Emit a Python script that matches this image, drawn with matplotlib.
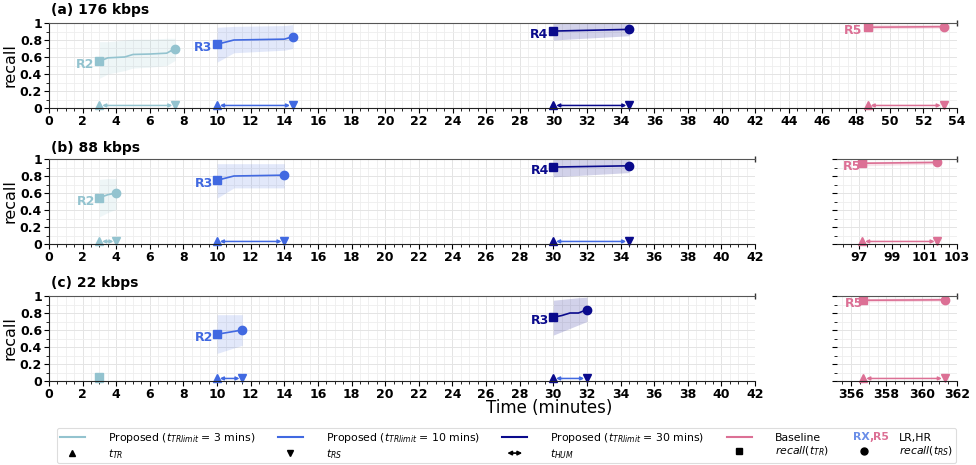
import matplotlib
matplotlib.use("Agg")
import matplotlib.pyplot as plt
from matplotlib.ticker import MultipleLocator, FixedLocator
from matplotlib.legend_handler import HandlerBase
from matplotlib.patches import FancyArrowPatch
from matplotlib.text import Text
from matplotlib.lines import Line2D

# ---------------- data ----------------
C3 = "#93c3cf"
C10 = "#4169e1"
C30 = "#0a0a8c"
CB = "#dc7095"

# panel (a) 176 kbps
a3_t = [3, 3.5, 4.5, 5, 6, 7, 7.5]
a3_m = [0.55, 0.59, 0.60, 0.63, 0.635, 0.645, 0.70]
a3_lo = [0.35, 0.40, 0.44, 0.47, 0.48, 0.50, 0.56]
a3_hi = [0.78, 0.78, 0.80, 0.81, 0.81, 0.82, 0.82]
a10_t = [10, 11, 14, 14.5]
a10_m = [0.75, 0.80, 0.81, 0.84]
a10_lo = [0.54, 0.65, 0.68, 0.70]
a10_hi = [0.95, 0.96, 0.97, 0.98]
a30_t = [30, 34.5]
a30_m = [0.905, 0.925]
a30_lo = [0.80, 0.85]
a30_hi = [1.0, 1.0]
aB_t = [48.7, 53.2]
aB_m = [0.95, 0.957]
aB_lo = [0.93, 0.94]
aB_hi = [0.98, 0.98]

# panel (b) 88 kbps
b3_t = [3, 3.5, 4]
b3_m = [0.545, 0.58, 0.60]
b3_lo = [0.32, 0.37, 0.41]
b3_hi = [0.76, 0.77, 0.77]
b10_t = [10, 11, 14]
b10_m = [0.75, 0.80, 0.81]
b10_lo = [0.54, 0.66, 0.66]
b10_hi = [0.945, 0.945, 0.945]
b30_t = [30, 34.5]
b30_m = [0.905, 0.92]
b30_lo = [0.79, 0.84]
b30_hi = [1.0, 1.0]
bB_t = [97.2, 101.8]
bB_m = [0.95, 0.96]
bB_lo = [0.92, 0.94]
bB_hi = [0.97, 0.98]

# panel (c) 22 kbps
c3_t = [3]
c3_m = [0.05]
c10_t = [10, 11.5]
c10_m = [0.55, 0.60]
c10_lo = [0.325, 0.42]
c10_hi = [0.78, 0.78]
c30_t = [30, 30.5, 31, 31.5, 32]
c30_m = [0.75, 0.77, 0.80, 0.80, 0.84]
c30_lo = [0.54, 0.58, 0.62, 0.66, 0.70]
c30_hi = [0.95, 0.96, 0.97, 0.98, 0.985]
cB_t = [356.7, 361.3]
cB_m = [0.95, 0.955]
cB_lo = [0.93, 0.94]
cB_hi = [0.97, 0.98]

panel_titles = ["(a) 176 kbps", "(b) 88 kbps", "(c) 22 kbps"]
yticks = [0, 0.2, 0.4, 0.6, 0.8, 1]
ytick_labels = ["0", "0.2", "0.4", "0.6", "0.8", "1"]

# ---------------- figure ----------------
W, H = 976, 465
fig = plt.figure(figsize=(W / 100, H / 100), dpi=100)
plt.rcParams["font.family"] = ["DejaVu Sans"]


def px_axes(x0, x1, ytop, ybot):
    return fig.add_axes([x0 / W, 1 - ybot / H, (x1 - x0) / W, (ybot - ytop) / H])


def style(ax, xlim, xmaj, xmin, left=True, show_ylabels=True):
    ax.set_xlim(*xlim)
    ax.set_ylim(0, 1)
    ax.xaxis.set_major_locator(xmaj)
    ax.xaxis.set_minor_locator(MultipleLocator(xmin))
    ax.yaxis.set_major_locator(FixedLocator(yticks))
    ax.yaxis.set_minor_locator(MultipleLocator(0.1))
    ax.grid(True, which="major", color="#e4e4e4", lw=0.7)
    ax.grid(True, which="minor", color="#eeeeee", lw=0.6)
    ax.set_axisbelow(True)
    ax.spines["right"].set_visible(False)
    ax.spines["top"].set_color("#555555")
    ax.spines["bottom"].set_color("#222222")
    if not left:
        ax.spines["left"].set_visible(False)
    else:
        ax.spines["left"].set_color("#222222")
    ax.tick_params(axis="both", which="major", length=3.5, width=0.8, labelsize=9, pad=1.5)
    ax.tick_params(axis="both", which="minor", length=2, width=0.6)
    if show_ylabels:
        ax.set_yticklabels(ytick_labels, fontweight="bold")
    else:
        ax.set_yticklabels([])
    for lab in ax.get_xticklabels():
        lab.set_fontweight("bold")
    ax.plot([1], [1], transform=ax.transAxes, ls="none", marker="|",
            ms=4, color="#333333", clip_on=False)


def series(ax, t, m, lo, hi, color, label, arrow_color=None, alpha=0.15):
    if lo is not None:
        ax.fill_between(t, lo, hi, color=color, alpha=alpha, lw=0)
    ax.plot(t, m, color=color, lw=1.2)
    ax.plot(t[0], m[0], marker="s", color=color, ms=6, ls="none")
    if len(t) > 1:
        ax.plot(t[-1], m[-1], marker="o", color=color, ms=6, ls="none")
    ax.plot(t[0], 0.03, marker="^", color=color, ms=6, ls="none", clip_on=False)
    ax.plot(t[-1], 0.03, marker="v", color=color, ms=6, ls="none", clip_on=False)
    if len(t) > 1:
        ax.annotate("", xy=(t[-1], 0.03), xytext=(t[0], 0.03),
                    arrowprops=dict(arrowstyle="<|-|>", color=arrow_color or color,
                                    lw=1.1, mutation_scale=5, shrinkA=2, shrinkB=2))
    if label:
        span = ax.get_xlim()[1] - ax.get_xlim()[0]
        ax.text(t[0] - span * 0.006, m[0] - 0.04, label, color=color,
                fontweight="bold", fontsize=9, ha="right", va="center")


# (a)
axA = px_axes(49, 957, 23, 108)
style(axA, (0, 54), MultipleLocator(2), 0.5)
series(axA, a3_t, a3_m, a3_lo, a3_hi, C3, "R2")
series(axA, a10_t, a10_m, a10_lo, a10_hi, C10, "R3")
series(axA, a30_t, a30_m, a30_lo, a30_hi, C30, "R4", alpha=0.18)
series(axA, aB_t, aB_m, aB_lo, aB_hi, CB, "R5", alpha=0.2)

# (b)
axB = px_axes(49, 755, 159, 244)
style(axB, (0, 42), MultipleLocator(2), 0.5)
axB2 = px_axes(837, 957, 159, 244)
style(axB2, (95.65, 103), FixedLocator([97, 99, 101, 103]), 0.5, left=False, show_ylabels=False)
series(axB, b3_t, b3_m, b3_lo, b3_hi, C3, "R2")
series(axB, b10_t, b10_m, b10_lo, b10_hi, C10, "R3")
series(axB, b30_t, b30_m, b30_lo, b30_hi, C30, "R4", arrow_color=C10, alpha=0.18)
series(axB2, bB_t, bB_m, bB_lo, bB_hi, CB, "R5", alpha=0.2)

# (c)
axC = px_axes(49, 755, 296, 381)
style(axC, (0, 42), MultipleLocator(2), 0.5)
axC2 = px_axes(837, 957, 296, 381)
style(axC2, (355.2, 362), FixedLocator([356, 358, 360, 362]), 0.5, left=False, show_ylabels=False)
series(axC, c3_t, c3_m, None, None, C3, None)
series(axC, c10_t, c10_m, c10_lo, c10_hi, C10, "R2")
series(axC, c30_t, c30_m, c30_lo, c30_hi, C30, "R3", arrow_color=C10, alpha=0.18)
series(axC2, cB_t, cB_m, cB_lo, cB_hi, CB, "R5", alpha=0.2)

# titles and labels
for title, ypx in zip(panel_titles, [10, 148, 283]):
    fig.text(51 / W, 1 - ypx / H, title, fontsize=10, fontweight="bold", va="center", ha="left")
for ypx in [65.5, 201.5, 338.5]:
    fig.text(10 / W, 1 - ypx / H, "recall", fontsize=11.5, rotation=90, va="center", ha="center")
fig.text(549 / W, 1 - 408 / H, "Time (minutes)", fontsize=12, ha="center", va="center")


# ---------------- legend ----------------
class ArrowHandle:
    pass


class RXHandle:
    pass


class HandlerArrow(HandlerBase):
    def create_artists(self, legend, orig_handle, xdescent, ydescent, width, height, fontsize, trans):
        y = -ydescent + height / 2
        p = FancyArrowPatch((-xdescent + width * 0.2, y), (-xdescent + width * 0.8, y),
                            arrowstyle="<|-|>", mutation_scale=6, lw=1.2, color="k",
                            transform=trans, shrinkA=0, shrinkB=0)
        return [p]


class HandlerRX(HandlerBase):
    def create_artists(self, legend, orig_handle, xdescent, ydescent, width, height, fontsize, trans):
        y = -ydescent + height / 2
        x = -xdescent + 1
        kw = dict(fontsize=fontsize, fontweight="bold", va="center", ha="left", transform=trans)
        t1 = Text(x, y, "RX", color="#6a8ee8", **kw)
        t2 = Text(x + 1.52 * fontsize, y, ",", color=CB, **kw)
        t3 = Text(x + 1.85 * fontsize, y, "R5", color=CB, **kw)
        return [t1, t2, t3]


h3 = Line2D([], [], color=C3, lw=1.5)
h10 = Line2D([], [], color=C10, lw=1.5)
h30 = Line2D([], [], color=C30, lw=1.5)
hB = Line2D([], [], color=CB, lw=1.5)
hRX = RXHandle()
hTR = Line2D([], [], color="k", marker="^", ls="none", ms=5)
hRS = Line2D([], [], color="k", marker="v", ls="none", ms=5)
hHUM = ArrowHandle()
hSq = Line2D([], [], color="k", marker="s", ls="none", ms=5)
hCi = Line2D([], [], color="k", marker="o", ls="none", ms=5)

handles = [h3, hTR, h10, hRS, h30, hHUM, hB, hSq, hRX, hCi]
labels = [r"Proposed ($t_{TRlimit}$ = 3 mins)", r"$t_{TR}$",
          r"Proposed ($t_{TRlimit}$ = 10 mins)", r"$t_{RS}$",
          r"Proposed ($t_{TRlimit}$ = 30 mins)", r"$t_{HUM}$",
          "Baseline", r"$recall(t_{TR})$",
          "LR,HR", r"$recall(t_{RS})$"]

# pick the legend font size so the first label is ~147 px wide as in the reference
renderer = fig.canvas.get_renderer()
probe = fig.text(0, 0, labels[0], fontsize=9)
wpx = probe.get_window_extent(renderer).width
probe.remove()
fs = 9 * 147.0 / wpx
fs_px = fs * 100 / 72.0

leg = fig.legend(handles, labels, ncol=5, loc="upper left",
                 bbox_to_anchor=(57 / W, 1 - 428 / H),
                 borderaxespad=0, fontsize=fs,
                 handlelength=25 / fs_px, handletextpad=23 / fs_px,
                 columnspacing=22.5 / fs_px, labelspacing=0.2,
                 borderpad=0.25, frameon=True, fancybox=True, edgecolor="#d5d5d5",
                 handler_map={ArrowHandle: HandlerArrow(), RXHandle: HandlerRX()})
leg.get_frame().set_linewidth(0.8)

fig.savefig("out.png", dpi=100)
